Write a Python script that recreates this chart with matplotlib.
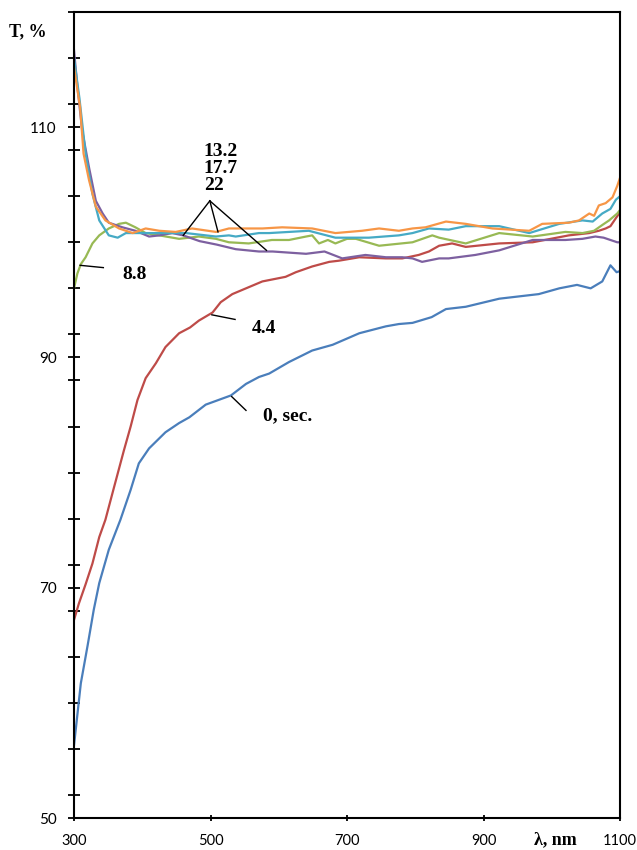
import matplotlib
matplotlib.use("Agg")
import matplotlib.pyplot as plt
from matplotlib.ticker import MultipleLocator

# transmission spectra, T (%) vs wavelength (nm), per exposure time (sec)
wl_0 = [300, 310, 320, 329, 337, 351, 368, 383, 395, 410, 434, 454, 469, 493, 530, 552, 571, 586,
        615, 649, 679, 718, 757, 776, 796, 824, 845, 874, 923, 981, 1011, 1037, 1057, 1074, 1086,
        1095, 1100]
t_0 = [56.3, 61.7, 65.0, 68.1, 70.4, 73.3, 75.9, 78.5, 80.8, 82.1, 83.5, 84.3, 84.8, 85.9, 86.7,
       87.7, 88.3, 88.6, 89.6, 90.6, 91.1, 92.1, 92.7, 92.9, 93.0, 93.5, 94.2, 94.4, 95.1, 95.5,
       96.0, 96.3, 96.0, 96.6, 98.0, 97.4, 97.5]

wl_44 = [300, 307, 317, 327, 337, 346, 359, 373, 383, 393, 405, 420, 434, 454, 470, 483, 503, 515,
         532, 552, 576, 610, 625, 649, 674, 688, 718, 757, 781, 805, 820, 835, 854, 874, 923, 972,
         1025, 1055, 1069, 1079, 1086, 1094, 1100]
t_44 = [67.2, 68.6, 70.3, 72.1, 74.4, 75.9, 78.8, 81.9, 84.0, 86.3, 88.2, 89.5, 90.9, 92.1, 92.6,
        93.2, 93.9, 94.8, 95.5, 96.0, 96.6, 97.0, 97.4, 97.9, 98.3, 98.4, 98.7, 98.6, 98.6, 98.9,
        99.2, 99.7, 99.9, 99.6, 99.9, 100.0, 100.6, 100.8, 101.0, 101.2, 101.4, 102.1, 102.6]

wl_88 = [300, 305, 310, 317, 327, 337, 351, 366, 376, 390, 405, 425, 454, 483, 508, 527, 556, 590,
         615, 640, 649, 659, 672, 683, 700, 713, 747, 796, 825, 835, 874, 923, 972, 1020, 1045,
         1062, 1074, 1084, 1096, 1100]
t_88 = [96.0, 97.3, 98.1, 98.7, 99.9, 100.6, 101.2, 101.6, 101.7, 101.3, 100.8, 100.6, 100.3,
        100.5, 100.3, 100.0, 99.9, 100.2, 100.2, 100.5, 100.6, 99.9, 100.2, 99.9, 100.3, 100.3,
        99.7, 100.0, 100.6, 100.4, 99.9, 100.8, 100.5, 100.9, 100.8, 101.0, 101.5, 101.9, 102.5,
        102.8]

wl_132 = [300, 305, 312, 322, 332, 342, 351, 371, 390, 410, 425, 444, 460, 484, 509, 537, 571, 591,
          640, 667, 693, 727, 757, 781, 796, 810, 835, 849, 888, 923, 972, 1020, 1045, 1064, 1076,
          1086, 1096, 1100]
t_132 = [116.7, 113.5, 109.7, 106.5, 103.6, 102.5, 101.7, 101.3, 101.0, 100.5, 100.6, 100.8, 100.6,
         100.1, 99.8, 99.4, 99.2, 99.2, 99.0, 99.2, 98.6, 98.9, 98.7, 98.7, 98.6, 98.3, 98.6, 98.6,
         98.9, 99.3, 100.2, 100.2, 100.3, 100.5, 100.4, 100.2, 100.0, 100.0]

wl_177 = [300, 308, 317, 327, 337, 351, 364, 376, 400, 425, 464, 508, 527, 537, 571, 586, 644, 683,
          732, 776, 796, 820, 849, 874, 923, 967, 1011, 1045, 1060, 1074, 1086, 1094, 1100]
t_177 = [116.0, 112.5, 107.7, 104.2, 101.9, 100.6, 100.4, 100.8, 100.8, 100.8, 100.8, 100.5, 100.6,
         100.5, 100.8, 100.8, 101.0, 100.4, 100.4, 100.6, 100.8, 101.2, 101.1, 101.4, 101.4, 100.8,
         101.6, 101.9, 101.8, 102.5, 102.9, 103.7, 104.0]

wl_22 = [300, 309, 314, 322, 332, 346, 366, 386, 405, 425, 449, 473, 508, 527, 537, 576, 605, 649,
         683, 722, 747, 776, 796, 815, 845, 874, 913, 967, 986, 1025, 1040, 1055, 1062, 1069, 1079,
         1089, 1096, 1100]
t_22 = [115.2, 111.7, 107.7, 105.4, 103.1, 101.9, 101.2, 100.8, 101.2, 101.0, 100.9, 101.2, 100.9,
        101.2, 101.2, 101.2, 101.3, 101.2, 100.8, 101.0, 101.2, 101.0, 101.2, 101.3, 101.8, 101.6,
        101.2, 101.0, 101.6, 101.7, 101.9, 102.5, 102.3, 103.2, 103.4, 103.9, 104.9, 105.6]

series = [
    (wl_0, t_0, "#4A7EBB"),
    (wl_44, t_44, "#BE4B48"),
    (wl_88, t_88, "#98B954"),
    (wl_132, t_132, "#7D60A0"),
    (wl_177, t_177, "#46AAC5"),
    (wl_22, t_22, "#F79646"),
]

x_ticks = [300, 500, 700, 900, 1100]
y_ticks = [50, 70, 90, 110]

serif = "Liberation Serif"
plt.rcParams["font.family"] = ["Lato", "DejaVu Sans"]

fig = plt.figure(figsize=(6.37, 8.5), dpi=100)
ax = fig.add_axes([74 / 637, 1 - 818 / 850, 546 / 637, 806 / 850])

for wl, t, color in series:
    ax.plot(wl, t, color=color, linewidth=1.6, solid_joinstyle="round")

ax.set_xlim(300, 1100)
ax.set_ylim(50, 120)
ax.set_xticks(x_ticks)
ax.set_yticks(y_ticks)
ax.yaxis.set_minor_locator(MultipleLocator(4))
for side in ax.spines.values():
    side.set_linewidth(1.5)
ax.tick_params(axis="y", which="both", direction="inout", length=9, width=1.3, pad=8,
               labelsize=11)
ax.tick_params(axis="x", which="both", direction="inout", length=5, width=1.3, pad=9,
               labelsize=10.5)

fig.text(9 / 637, 1 - 32 / 850, "T, %", fontsize=13, fontweight="bold", family=serif,
         ha="left", va="center")
fig.text(555 / 637, 1 - 840 / 850, "λ, nm", fontsize=13, fontweight="bold", family=serif,
         ha="center", va="center")

label_kw = dict(fontsize=14, fontweight="bold", family=serif)
line_kw = dict(color="black", linewidth=1.0)

ax.text(490, 108.6, "13.2\n17.7\n22", ha="left", va="top", linespacing=0.98, **label_kw)
for x_end, y_end in [(460, 100.6), (511, 100.9), (582, 99.3)]:
    ax.plot([499, x_end], [103.6, y_end], **line_kw)

ax.text(371, 97.2, "8.8", ha="left", va="center", **label_kw)
ax.plot([309, 343], [98.0, 97.8], **line_kw)

ax.text(561, 92.5, "4.4", ha="left", va="center", **label_kw)
ax.plot([502, 536], [93.7, 93.3], **line_kw)

ax.text(577, 84.9, "0, sec.", ha="left", va="center", **label_kw)
ax.plot([531, 552], [86.6, 85.4], **line_kw)

fig.savefig("out.png", dpi=100)
